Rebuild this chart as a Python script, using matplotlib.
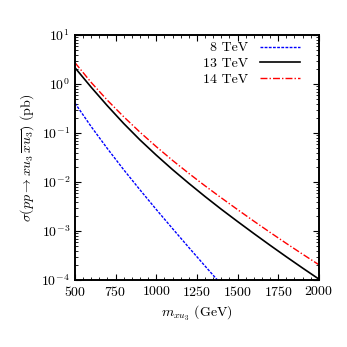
import numpy as np
import matplotlib
matplotlib.use("Agg")
import matplotlib.pyplot as plt
from matplotlib.ticker import MultipleLocator, LogLocator, NullFormatter

plt.rcParams['font.family'] = 'serif'
plt.rcParams['font.serif'] = ['cmr10', 'DejaVu Serif']
plt.rcParams['mathtext.fontset'] = 'cm'
plt.rcParams['axes.formatter.use_mathtext'] = True
plt.rcParams['axes.unicode_minus'] = False

# masses in GeV
mass = [500, 600, 700, 800, 900, 1000, 1100, 1200, 1300, 1400,
        1500, 1600, 1700, 1800, 1900, 2000]
# log10 of cross section (pb)
log_xs_13 = [0.334, -0.066, -0.446, -0.806, -1.141, -1.451, -1.746, -2.026, -2.296, -2.556,
             -2.806, -3.051, -3.291, -3.526, -3.756, -3.981]
log_xs_14 = [0.437, 0.032, -0.333, -0.668, -0.983, -1.278, -1.558, -1.823, -2.078, -2.323,
             -2.563, -2.798, -3.028, -3.253, -3.473, -3.688]
mass_8 = [500, 600, 700, 800, 900, 1000, 1100, 1200, 1300, 1400]
log_xs_8 = [-0.39, -0.87, -1.32, -1.75, -2.16, -2.56, -2.95, -3.335, -3.715, -4.09]

fig = plt.figure(figsize=(3.47, 3.47), dpi=100)
ax = fig.add_axes([0.216, 0.193, 0.703, 0.706])

ax.plot(mass_8, 10**np.array(log_xs_8), color='#0000ff', ls=(0, (2, 1)), lw=1.0, label='8 TeV')
ax.plot(mass, 10**np.array(log_xs_13), color='black', ls='-', lw=1.2, label='13 TeV')
ax.plot(mass, 10**np.array(log_xs_14), color='#ff0000', ls=(0, (5, 1.5, 1, 1.5)), lw=1.0, label='14 TeV')

ax.set_yscale('log')
ax.set_xlim(500, 2000)
ax.set_ylim(1e-4, 10)
ax.xaxis.set_major_locator(MultipleLocator(250))
ax.xaxis.set_minor_locator(MultipleLocator(50))
ax.yaxis.set_major_locator(LogLocator(base=10, numticks=10))
ax.yaxis.set_minor_locator(LogLocator(base=10, subs=np.arange(2, 10), numticks=10))
ax.yaxis.set_minor_formatter(NullFormatter())
ax.tick_params(which='both', direction='in', top=True, right=True, labelsize=10)
ax.tick_params(which='major', length=4, width=0.8)
ax.tick_params(which='minor', length=2, width=0.6)
for s in ax.spines.values():
    s.set_linewidth(1.4)

ax.set_xlabel(r'$m_{xu_3}$ (GeV)', fontsize=10)
ax.set_ylabel(r'$\sigma(pp\rightarrow xu_3\,\overline{xu_3})$ (pb)', fontsize=10)

ax.legend(loc='upper right', bbox_to_anchor=(0.94, 0.99), frameon=False,
          markerfirst=False, fontsize=10, handlelength=2.9, labelspacing=0.22,
          borderaxespad=0.0, handletextpad=0.85, borderpad=0.3)

fig.savefig('out.png', dpi=100)
